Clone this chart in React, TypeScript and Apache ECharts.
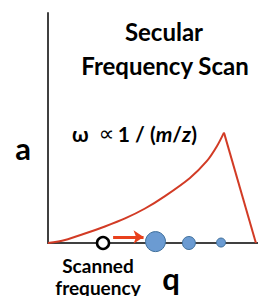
import React, { useEffect, useRef } from "react";
import * as echarts from "echarts";

// Potential curve (q, a) — rising branch and falling edge
const risingQ = [0, 0.081, 0.176, 0.271, 0.367, 0.462, 0.557, 0.676, 0.757, 0.805, 0.838];
const risingA = [0, 0.013, 0.041, 0.072, 0.107, 0.15, 0.204, 0.283, 0.357, 0.422, 0.48];
const fallingQ = [0.838, 0.99];
const fallingA = [0.48, 0];

// Scanned frequency marker
const scanQ = [0.262];
const scanA = [0];

// Ion markers on the q axis (size ~ mass)
const ionQ = [0.512, 0.671, 0.824];
const ionA = [0.006, 0, 0.002];
const ionSize = [20, 13, 9];

// Scan-direction arrow
const arrowQ = [0.31, 0.455];
const arrowA = [0.026, 0.026];

const titleLines = ["Secular", "Frequency Scan"];
const axisNames = ["a", "q"];
const scanLabel = ["Scanned", "frequency"];

const FONT = "Lato, 'Open Sans', sans-serif";

export default function App() {
  const ref = useRef<HTMLDivElement>(null);
  useEffect(() => {
    const chart = echarts.init(ref.current!, undefined, { renderer: "svg" });
    chart.setOption({
      animation: false,
      backgroundColor: "#ffffff",
      grid: { left: 48, right: 0, top: 13, bottom: 53 },
      xAxis: {
        type: "value",
        min: 0,
        max: 1,
        axisLine: { show: true, lineStyle: { color: "#404040", width: 2 } },
        axisTick: { show: false },
        axisLabel: { show: false },
        splitLine: { show: false },
      },
      yAxis: {
        type: "value",
        min: 0,
        max: 1,
        axisLine: { show: true, lineStyle: { color: "#404040", width: 2 } },
        axisTick: { show: false },
        axisLabel: { show: false },
        splitLine: { show: false },
      },
      series: [
        {
          type: "line",
          data: risingQ.map((q, i) => [q, risingA[i]]),
          smooth: 0.3,
          showSymbol: false,
          lineStyle: { color: "#d23b25", width: 2 },
          z: 2,
        },
        {
          type: "line",
          data: fallingQ.map((q, i) => [q, fallingA[i]]),
          showSymbol: false,
          lineStyle: { color: "#d23b25", width: 2 },
          z: 2,
        },
        {
          type: "lines",
          coordinateSystem: "cartesian2d",
          symbol: ["none", "arrow"],
          symbolSize: 10,
          lineStyle: { color: "#e8401c", width: 3, opacity: 1 },
          data: [{ coords: arrowQ.map((q, i) => [q, arrowA[i]]) }],
          z: 3,
        },
        {
          type: "scatter",
          data: scanQ.map((q, i) => [q, scanA[i]]),
          symbolSize: 12,
          itemStyle: { color: "#ffffff", borderColor: "#000000", borderWidth: 2.5, opacity: 1 },
          z: 4,
        },
        {
          type: "scatter",
          data: ionQ.map((q, i) => [q, ionA[i], ionSize[i]]),
          symbolSize: (v: number[]) => v[2],
          itemStyle: { color: "#6b9bd2", borderColor: "#41719c", borderWidth: 1, opacity: 1 },
          z: 4,
        },
      ],
      graphic: [
        {
          type: "text",
          x: 164,
          y: 31,
          style: { text: titleLines[0], font: `bold 24px ${FONT}`, fill: "#000", align: "center", verticalAlign: "middle" },
        },
        {
          type: "text",
          x: 165,
          y: 65,
          style: { text: titleLines[1], font: `bold 24px ${FONT}`, fill: "#000", align: "center", verticalAlign: "middle" },
        },
        {
          type: "text",
          x: 72,
          y: 133,
          style: {
            text: "{w|ω}   {p|∝} {b|1 / (}{i|m}{b|/}{i|z}{b|)}",
            align: "left",
            verticalAlign: "middle",
            fill: "#000",
            rich: {
              w: { font: `bold 21px ${FONT}`, fill: "#000" },
              p: { font: `22px 'DejaVu Sans', sans-serif`, fill: "#000" },
              b: { font: `bold 21px ${FONT}`, fill: "#000" },
              i: { font: `italic bold 21px ${FONT}`, fill: "#000" },
            },
          },
        },
        {
          type: "text",
          x: 23,
          y: 148,
          style: { text: axisNames[0], font: `bold 31px ${FONT}`, fill: "#000", align: "center", verticalAlign: "middle" },
        },
        {
          type: "text",
          x: 171,
          y: 278,
          style: { text: axisNames[1], font: `bold 31px ${FONT}`, fill: "#000", align: "center", verticalAlign: "middle" },
        },
        {
          type: "text",
          x: 98,
          y: 254,
          style: {
            text: scanLabel.join("\n"),
            font: `bold 19px ${FONT}`,
            lineHeight: 22,
            fill: "#000",
            align: "center",
            verticalAlign: "top",
          },
        },
      ],
    });
    return () => chart.dispose();
  }, []);
  return <div ref={ref} style={{ width: 258, height: 296, position: "absolute", left: 0, top: 0 }} />;
}
